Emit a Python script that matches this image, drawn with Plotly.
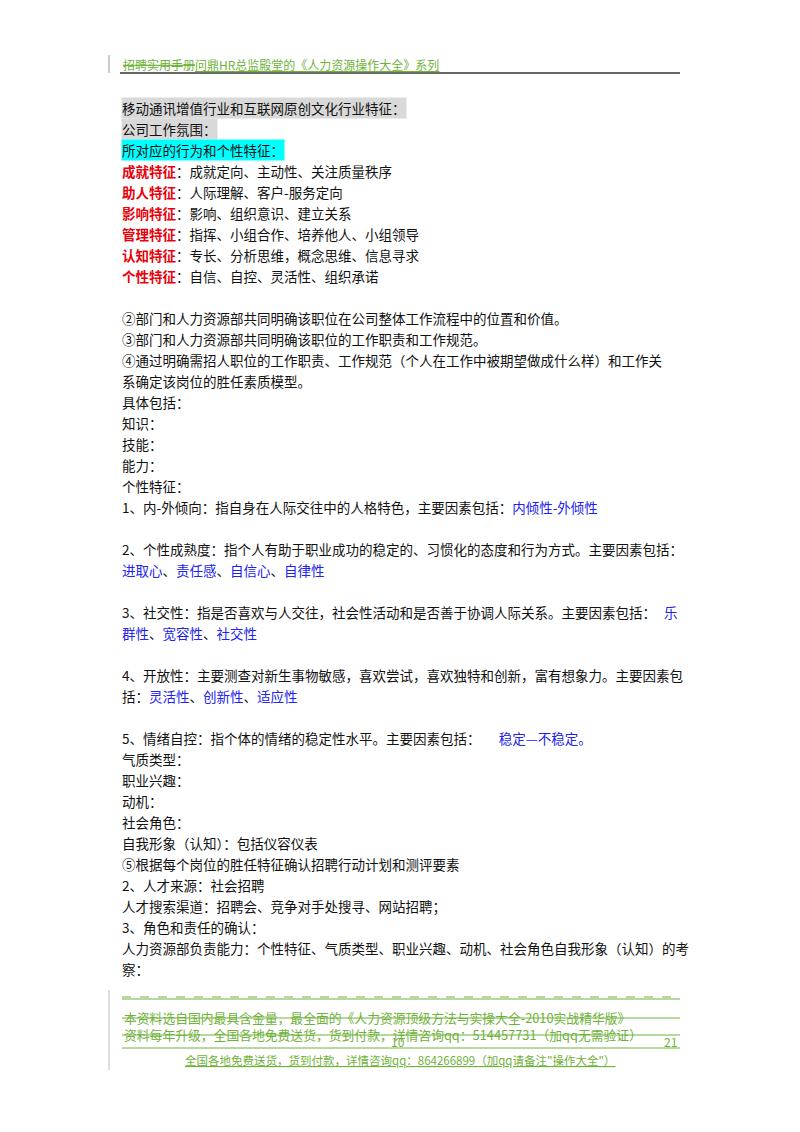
import plotly.graph_objects as go

RED = "#e8000b"
BLUE = "#2222ee"
GREEN = "#6fb23a"

# body text lines: (y, text)
body_lines = [
    (108, "移动通讯增值行业和互联网原创文化行业特征："),
    (129, "公司工作氛围："),
    (150, "所对应的行为和个性特征："),
    (171, f"<span style='color:{RED}'><b>成就特征</b></span>：成就定向、主动性、关注质量秩序"),
    (192, f"<span style='color:{RED}'><b>助人特征</b></span>：人际理解、客户-服务定向"),
    (213, f"<span style='color:{RED}'><b>影响特征</b></span>：影响、组织意识、建立关系"),
    (234, f"<span style='color:{RED}'><b>管理特征</b></span>：指挥、小组合作、培养他人、小组领导"),
    (255, f"<span style='color:{RED}'><b>认知特征</b></span>：专长、分析思维，概念思维、信息寻求"),
    (276, f"<span style='color:{RED}'><b>个性特征</b></span>：自信、自控、灵活性、组织承诺"),
    (318, "②部门和人力资源部共同明确该职位在公司整体工作流程中的位置和价值。"),
    (339, "③部门和人力资源部共同明确该职位的工作职责和工作规范。"),
    (360, "④通过明确需招人职位的工作职责、工作规范（个人在工作中被期望做成什么样）和工作关"),
    (381, "系确定该岗位的胜任素质模型。"),
    (402, "具体包括："),
    (423, "知识："),
    (444, "技能："),
    (465, "能力："),
    (486, "个性特征："),
    (507, f"1、内-外倾向：指自身在人际交往中的人格特色，主要因素包括：<span style='color:{BLUE}'>内倾性-外倾性</span>"),
    (549, "2、个性成熟度：指个人有助于职业成功的稳定的、习惯化的态度和行为方式。主要因素包括："),
    (570, f"<span style='color:{BLUE}'>进取心</span>、<span style='color:{BLUE}'>责任感</span>、<span style='color:{BLUE}'>自信心</span>、<span style='color:{BLUE}'>自律性</span>"),
    (612, "3、社交性：指是否喜欢与人交往，社会性活动和是否善于协调人际关系。主要因素包括："),
    (633, f"<span style='color:{BLUE}'>群性</span>、<span style='color:{BLUE}'>宽容性</span>、<span style='color:{BLUE}'>社交性</span>"),
    (675, "4、开放性：主要测查对新生事物敏感，喜欢尝试，喜欢独特和创新，富有想象力。主要因素包"),
    (696, f"括：<span style='color:{BLUE}'>灵活性</span>、<span style='color:{BLUE}'>创新性</span>、<span style='color:{BLUE}'>适应性</span>"),
    (738, f"5、情绪自控：指个体的情绪的稳定性水平。主要因素包括：      <span style='color:{BLUE}'>稳定—不稳定。</span>"),
    (759, "气质类型："),
    (780, "职业兴趣："),
    (801, "动机："),
    (822, "社会角色："),
    (843, "自我形象（认知）：包括仪容仪表"),
    (864, "⑤根据每个岗位的胜任特征确认招聘行动计划和测评要素"),
    (885, "2、人才来源：社会招聘"),
    (906, "人才搜索渠道：招聘会、竞争对手处搜寻、网站招聘；"),
    (927, "3、角色和责任的确认："),
    (948, "人力资源部负责能力：个性特征、气质类型、职业兴趣、动机、社会角色自我形象（认知）的考"),
    (969, "察："),
]
highlight = {108: "#d9d9d9", 129: "#d9d9d9", 150: "#00ffff"}

footer_lines = [
    (1017, 122, "本资料选自国内最具含金量，最全面的《人力资源顶级方法与实操大全-2010实战精华版》"),
    (1034, 122, "资料每年升级，全国各地免费送货，货到付款，详情咨询qq：514457731（加qq无需验证）"),
]

fig = go.Figure()
fig.add_trace(go.Scatter(x=[0, 800], y=[0, 1132], mode="markers", marker=dict(opacity=0), hoverinfo="skip"))

font = dict(family="Noto Sans CJK SC", size=13.5, color="#111")
for y, t in body_lines:
    fig.add_annotation(x=121, y=y, text=t, xanchor="left", yanchor="middle", showarrow=False,
                       font=font, bgcolor=highlight.get(y, "rgba(0,0,0,0)"), borderpad=0)
fig.add_annotation(x=680, y=612, text="乐", xanchor="right", yanchor="middle", showarrow=False,
                   font=dict(family="Noto Sans CJK SC", size=13.5, color=BLUE))

gfont = dict(family="Noto Sans CJK SC", size=12, color=GREEN)
fig.add_annotation(x=121, y=64, text="<s>招聘实用手册</s><u>问鼎HR总监殿堂的《人力资源操作大全》系列</u>",
                   xanchor="left", yanchor="middle", showarrow=False, font=gfont)
ffont = dict(family="Noto Sans CJK SC", size=12.8, color=GREEN)
for y, x, t in footer_lines:
    fig.add_annotation(x=x, y=y, text=t, xanchor="left", yanchor="middle", showarrow=False, font=ffont)
    fig.add_shape(type="line", x0=122, x1=680, y0=y + 1, y1=y + 1, line=dict(color=GREEN, width=1))
fig.add_annotation(x=398, y=1041, text="10", showarrow=False, yanchor="middle", font=gfont)
fig.add_annotation(x=679, y=1041, text="21", showarrow=False, xanchor="right", yanchor="middle", font=gfont)
fig.add_annotation(x=400, y=1060, text="<u>全国各地免费送货，货到付款，详情咨询qq：864266899（加qq请备注\"操作大全\"）</u>",
                   showarrow=False, yanchor="middle", font=dict(family="Noto Sans CJK SC", size=11.5, color=GREEN))

fig.add_shape(type="line", x0=120, x1=680, y0=73, y1=73, line=dict(color="#333", width=1.5))
fig.add_shape(type="line", x0=109, x1=109, y0=55, y1=73, line=dict(color="#999", width=1))
fig.add_shape(type="line", x0=109, x1=109, y0=990, y1=1070, line=dict(color="#bbb", width=1))
fig.add_shape(type="line", x0=122, x1=680, y0=997, y1=997, line=dict(color=GREEN, width=1, dash="dash"))
fig.add_shape(type="line", x0=122, x1=680, y0=999, y1=999, line=dict(color=GREEN, width=1))
fig.add_shape(type="line", x0=122, x1=680, y0=1048, y1=1048, line=dict(color=GREEN, width=1))

# page is rendered with an 8px body margin, offset the ranges to compensate
fig.update_xaxes(range=[8, 808], visible=False, fixedrange=True)
fig.update_yaxes(range=[1140, 8], visible=False, fixedrange=True)
fig.update_layout(width=800, height=1132, margin=dict(l=0, r=0, t=0, b=0),
                  plot_bgcolor="white", paper_bgcolor="white", showlegend=False)
fig.write_html("out.html")
